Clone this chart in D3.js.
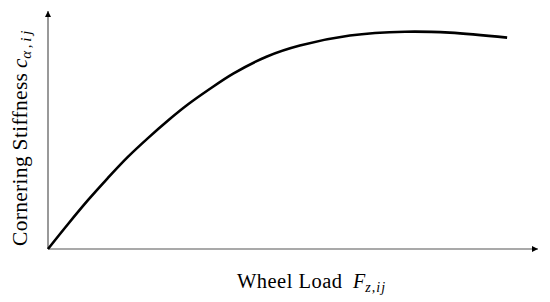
<!DOCTYPE html>
<html><head><meta charset="utf-8">
<script src="https://cdn.jsdelivr.net/npm/d3@7/dist/d3.min.js"></script>
<style>body{margin:0;background:#fff}svg{display:block}</style>
</head><body>
<script>
const wheelLoad = [0, 4.1, 8.2, 12.2, 16.3, 20.4, 24.5, 28.6, 32.7, 37.8, 44.7, 51.4, 61.6, 72.9, 82.0, 93.7];
const stiffness = [0, 10.5, 20.6, 29.8, 38.7, 46.6, 54.0, 60.8, 66.8, 73.7, 80.9, 85.5, 89.7, 91.3, 90.9, 88.8];
const xLabel = "Wheel Load";
const yLabel = "Cornering Stiffness";

const W = 550, H = 302;
const svg = d3.select("body").append("svg").attr("width", W).attr("height", H);
const x = d3.scaleLinear().domain([0, 100]).range([48, 538]);
const y = d3.scaleLinear().domain([0, 100]).range([249, 11]);

const defs = svg.append("defs");
defs.append("marker").attr("id", "arr").attr("viewBox", "0 0 10 10")
  .attr("refX", 10).attr("refY", 5).attr("markerWidth", 10).attr("markerHeight", 6)
  .attr("markerUnits", "userSpaceOnUse").attr("orient", "auto")
  .append("path").attr("d", "M0,0L10,5L0,10Z").attr("fill", "#000");

svg.append("line").attr("x1", x(0)).attr("y1", y(0)).attr("x2", x(100)).attr("y2", y(0))
  .attr("stroke", "#555").attr("stroke-width", 1.2).attr("marker-end", "url(#arr)");
svg.append("line").attr("x1", x(0)).attr("y1", y(0)).attr("x2", x(0)).attr("y2", y(100))
  .attr("stroke", "#555").attr("stroke-width", 1.2).attr("marker-end", "url(#arr)");

const pts = wheelLoad.map((v, i) => [v, stiffness[i]]);
svg.append("path").datum(pts)
  .attr("d", d3.line().x(d => x(d[0])).y(d => y(d[1])).curve(d3.curveCatmullRom.alpha(0.5)))
  .attr("fill", "none").attr("stroke", "#000").attr("stroke-width", 2.6);

const font = "'Liberation Serif', 'DejaVu Serif', serif";
// x label
svg.append("text").attr("x", 237).attr("y", 288)
  .attr("font-family", font).attr("font-size", 20.5).attr("fill", "#000")
  .attr("textLength", 105).attr("lengthAdjust", "spacing").text(xLabel);
const xs = svg.append("text").attr("x", 353).attr("y", 288)
  .attr("font-family", font).attr("font-size", 20).attr("fill", "#000").attr("font-style", "italic");
xs.append("tspan").text("F");
xs.append("tspan").attr("font-size", 14).attr("dy", 4).attr("textLength", 20).attr("lengthAdjust", "spacing").text("z,ij");

// y label
const yg = svg.append("g").attr("transform", "translate(27,246) rotate(-90)");
yg.append("text").attr("x", 0).attr("y", 0)
  .attr("font-family", font).attr("font-size", 21.5).attr("fill", "#000")
  .attr("textLength", 173).attr("lengthAdjust", "spacing").text(yLabel);
const ys = yg.append("text").attr("x", 178).attr("y", 0)
  .attr("font-family", font).attr("font-size", 21).attr("fill", "#000").attr("font-style", "italic");
ys.append("tspan").text("c");
ys.append("tspan").attr("font-size", 15).attr("dy", 4).attr("textLength", 28).attr("lengthAdjust", "spacing").text("\u03b1,ij");
</script>
</body></html>
